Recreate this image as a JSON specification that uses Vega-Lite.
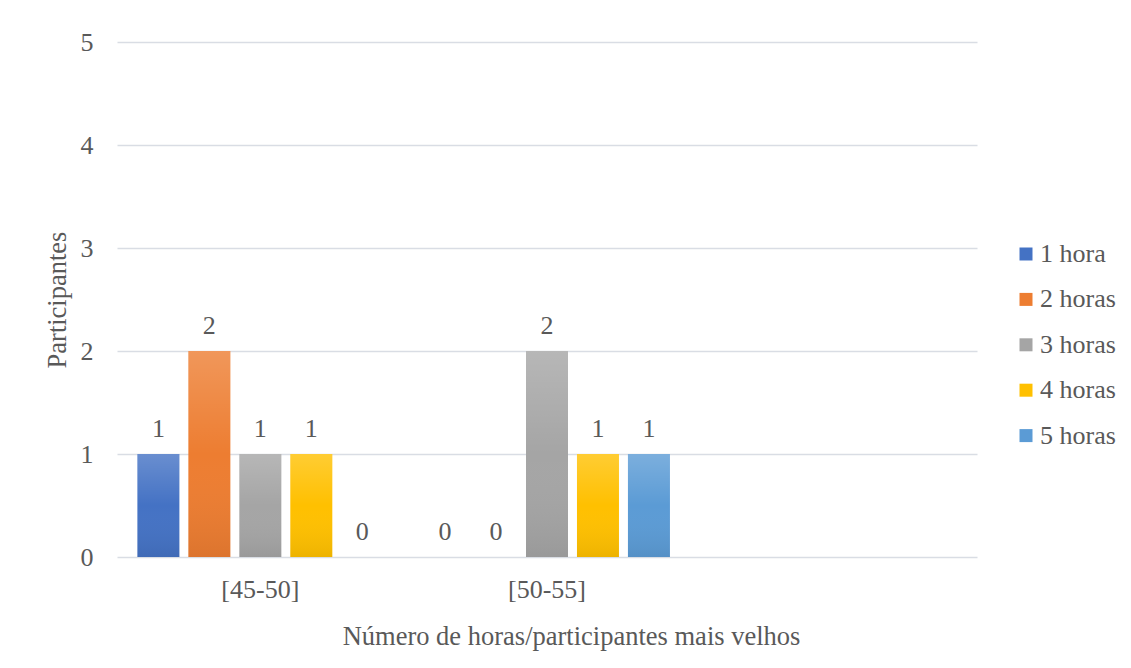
{
  "$schema": "https://vega.github.io/schema/vega-lite/v6.json",
  "width": 860,
  "height": 515,
  "autosize": {"type": "none"},
  "padding": {"left": 117, "top": 42, "right": 154, "bottom": 111},
  "background": "#ffffff",
  "config": {
    "view": {"stroke": null},
    "font": "Liberation Serif",
    "axis": {"labelFont": "Liberation Serif", "titleFont": "Liberation Serif", "labelColor": "#595959", "titleColor": "#595959", "labelFontSize": 26, "titleFontSize": 26.5, "titleFontWeight": "normal"},
    "legend": {"labelFont": "Liberation Serif", "labelFontSize": 26, "labelColor": "#595959"}
  },
  "data": {
    "values": [
      {"faixa": "[45-50]", "horas": "1 hora", "participantes": 1},
      {"faixa": "[45-50]", "horas": "2 horas", "participantes": 2},
      {"faixa": "[45-50]", "horas": "3 horas", "participantes": 1},
      {"faixa": "[45-50]", "horas": "4 horas", "participantes": 1},
      {"faixa": "[45-50]", "horas": "5 horas", "participantes": 0},
      {"faixa": "[50-55]", "horas": "1 hora", "participantes": 0},
      {"faixa": "[50-55]", "horas": "2 horas", "participantes": 0},
      {"faixa": "[50-55]", "horas": "3 horas", "participantes": 2},
      {"faixa": "[50-55]", "horas": "4 horas", "participantes": 1},
      {"faixa": "[50-55]", "horas": "5 horas", "participantes": 1}
    ]
  },
  "encoding": {
    "x": {
      "field": "faixa", "type": "nominal",
      "scale": {"domain": ["[45-50]", "[50-55]", " "], "paddingInner": 0, "paddingOuter": 0},
      "axis": {"title": "Número de horas/participantes mais velhos", "labelAngle": 0, "ticks": false, "domain": false, "grid": false, "labelPadding": 19, "titlePadding": 21, "titleX": 454, "titleAlign": "center"}
    },
    "xOffset": {
      "field": "horas", "type": "nominal",
      "scale": {"domain": ["1 hora", "2 horas", "3 horas", "4 horas", "5 horas"], "paddingInner": 0.176, "paddingOuter": 0.4}
    },
    "y": {
      "field": "participantes", "type": "quantitative",
      "scale": {"domain": [0, 5]},
      "axis": {"title": "Participantes", "values": [0, 1, 2, 3, 4, 5], "ticks": false, "domain": false, "gridColor": "#d9dde4", "gridWidth": 1.5, "labelPadding": 24, "titlePadding": 9}
    }
  },
  "layer": [
    {
      "mark": {"type": "bar"},
      "encoding": {
        "color": {
          "field": "horas", "type": "nominal",
          "scale": {"domain": ["1 hora", "2 horas", "3 horas", "4 horas", "5 horas"], "range": ["#4472C4", "#ED7D31", "#A5A5A5", "#FFC000", "#5B9BD5"]},
          "legend": {"title": null, "orient": "none", "legendX": 896, "legendY": 199, "symbolType": "square", "symbolSize": 169, "symbolStrokeWidth": 0, "rowPadding": 19.4, "labelOffset": 1}
        }
      }
    },
    {
      "mark": {
        "type": "bar",
        "color": {"gradient": "linear", "x1": 0, "y1": 0, "x2": 0, "y2": 1, "stops": [
          {"offset": 0, "color": "rgba(255,255,255,0.2)"},
          {"offset": 0.5, "color": "rgba(255,255,255,0)"},
          {"offset": 1, "color": "rgba(0,0,0,0.07)"}
        ]}
      },
      "encoding": {}
    },
    {
      "mark": {"type": "text", "baseline": "alphabetic", "dy": -17, "fontSize": 26, "color": "#595959", "font": "Liberation Serif"},
      "encoding": {"text": {"field": "participantes", "type": "quantitative"}}
    }
  ]
}
